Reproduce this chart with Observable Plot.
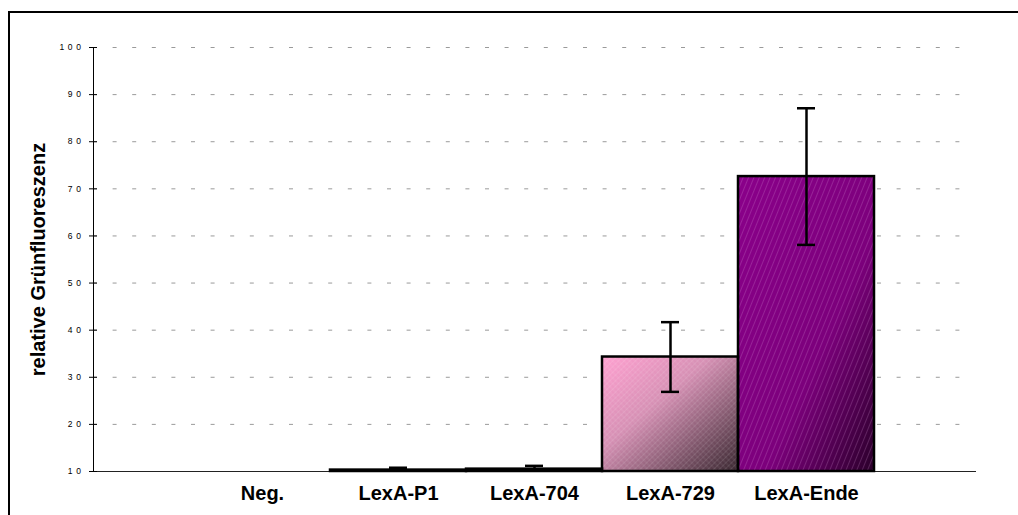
<!DOCTYPE html>
<html>
<head>
<meta charset="utf-8">
<script src="https://cdn.jsdelivr.net/npm/d3@7"></script>
<script src="https://cdn.jsdelivr.net/npm/@observablehq/plot@0.6"></script>
<style>
  html, body { margin: 0; padding: 0; background: white; overflow: hidden; }
  #wrap { position: relative; width: 1018px; height: 515px; overflow: hidden; }
  #wrap svg { position: absolute; left: 0; top: 0; }
</style>
</head>
<body>
<div id="wrap"></div>
<script>
// ---- data ----
const categories = ["Neg.", "LexA-P1", "LexA-704", "LexA-729", "LexA-Ende"];
const values = [10, 10.3, 10.5, 34.3, 72.6];
const errors = [0, 0.5, 0.7, 7.4, 14.5];
const fills = ["white", "white", "white", "url(#g729)", "url(#gEnde)"];
const hatches = ["none", "none", "none", "url(#h729)", "url(#hEnde)"];
const yTicks = [10, 20, 30, 40, 50, 60, 70, 80, 90, 100];
const yLabel = "relative Grünfluoreszenz";
const yMin = 10, yMax = 100;

const data = categories.map((c, i) => ({c, v: values[i], e: errors[i], fill: fills[i], hatch: hatches[i]}));
const barData = data.filter(d => d.v > yMin);
const errData = data.filter(d => d.e > 0);

const svg = Plot.plot({
  width: 1018,
  height: 515,
  marginTop: 47,
  marginBottom: 44,
  marginLeft: 93,
  marginRight: 43,
  style: {fontFamily: "'Liberation Sans', Arial, sans-serif", background: "transparent"},
  x: {type: "band", domain: categories, paddingInner: 0, paddingOuter: 0.735, label: null},
  y: {domain: [yMin, yMax], label: null},
  color: {type: "identity"},
  marks: [
    Plot.gridY({ticks: yTicks.filter(t => t > yMin), stroke: "#9a9a9a", strokeOpacity: 1, strokeWidth: 1, strokeDasharray: "4,15.6"}),
    Plot.frame({anchor: "bottom", stroke: "#222", strokeWidth: 1}),
    Plot.frame({anchor: "left", stroke: "black", strokeWidth: 1}),
    Plot.axisY({ticks: yTicks, tickSize: 8, dx: 4, tickPadding: 5, fontSize: 8.5, fill: "black", stroke: "black", tickFormat: d => String(d)}),
    Plot.axisX({tickSize: 0, tickPadding: 14, fontSize: 20, fontWeight: "bold", fill: "black"}),
    Plot.text([yLabel], {frameAnchor: "left", dx: -55, rotate: -90, fontSize: 20, fontWeight: "bold", fill: "black", textAnchor: "middle", lineAnchor: "middle"}),
    Plot.barY(barData, {x: "c", y1: yMin, y2: "v", fill: "fill"}),
    Plot.barY(barData, {x: "c", y1: yMin, y2: "v", fill: "hatch", stroke: "black", strokeWidth: 2.5}),
    Plot.ruleX(errData, {x: "c", y1: d => Math.max(yMin, d.v - d.e), y2: d => d.v + d.e, stroke: "black", strokeWidth: 2.5}),
    Plot.tickY(errData, {x: "c", y: d => d.v + d.e, insetLeft: 59, insetRight: 59, stroke: "black", strokeWidth: 2.5}),
    Plot.tickY(errData.filter(d => d.v - d.e > yMin), {x: "c", y: d => d.v - d.e, insetLeft: 59, insetRight: 59, stroke: "black", strokeWidth: 2.5})
  ]
});

// defs: gradients and hatch patterns
const s = d3.select(svg);
const defs = s.insert("defs", ":first-child");
const g1 = defs.append("linearGradient").attr("id", "g729").attr("x1", 0).attr("y1", 0).attr("x2", 1).attr("y2", 1);
g1.append("stop").attr("offset", 0).attr("stop-color", "#ffa0d0");
g1.append("stop").attr("offset", 0.4).attr("stop-color", "#d690b4");
g1.append("stop").attr("offset", 1).attr("stop-color", "#38262f");
const g2 = defs.append("linearGradient").attr("id", "gEnde").attr("x1", 0).attr("y1", 0).attr("x2", 1).attr("y2", 1);
g2.append("stop").attr("offset", 0).attr("stop-color", "#8a008a");
g2.append("stop").attr("offset", 0.6).attr("stop-color", "#7c007c");
g2.append("stop").attr("offset", 1).attr("stop-color", "#2a002a");
const h1 = defs.append("pattern").attr("id", "h729").attr("patternUnits", "userSpaceOnUse")
  .attr("width", 4).attr("height", 4).attr("patternTransform", "rotate(45)");
h1.append("line").attr("x1", 0).attr("y1", 0).attr("x2", 0).attr("y2", 4).attr("stroke", "white").attr("stroke-opacity", 0.2).attr("stroke-width", 1);
h1.append("line").attr("x1", 0).attr("y1", 2).attr("x2", 4).attr("y2", 2).attr("stroke", "white").attr("stroke-opacity", 0.1).attr("stroke-width", 1);
const h2 = defs.append("pattern").attr("id", "hEnde").attr("patternUnits", "userSpaceOnUse")
  .attr("width", 5).attr("height", 5).attr("patternTransform", "rotate(22)");
h2.append("line").attr("x1", 0).attr("y1", 0).attr("x2", 0).attr("y2", 5).attr("stroke", "#e0a0e0").attr("stroke-opacity", 0.4).attr("stroke-width", 1.1);

// outer chart-area border (top and left edges only, as in the reference)
s.append("path").attr("d", "M9,515V12H1018").attr("fill", "none").attr("stroke", "black").attr("stroke-width", 2);

s.selectAll('g[aria-label="y-axis tick label"] text').attr("letter-spacing", 3.6).attr("stroke", "none");

document.getElementById("wrap").appendChild(svg);
</script>
</body>
</html>
